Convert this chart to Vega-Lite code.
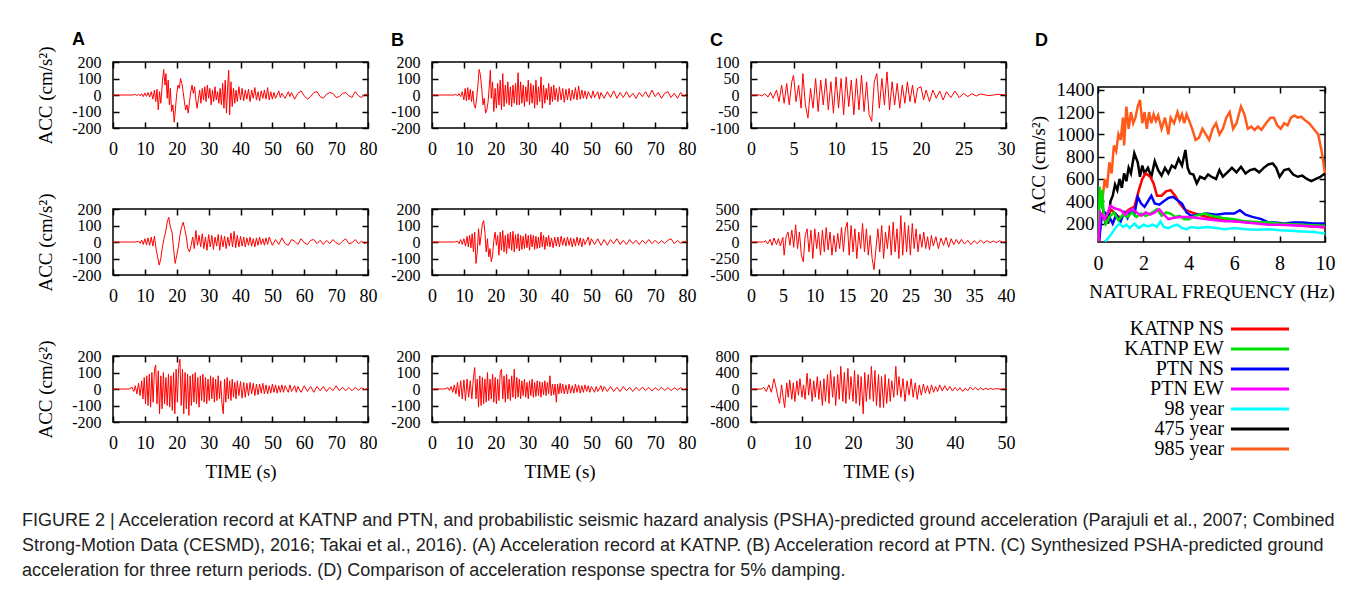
{
"$schema":"https://vega.github.io/schema/vega-lite/v6.json",
"background":"white",
"padding":{"left":22,"top":30,"right":5,"bottom":5},
"spacing":12,
"title":{"text":["FIGURE 2 | Acceleration record at KATNP and PTN, and probabilistic seismic hazard analysis (PSHA)-predicted ground acceleration (Parajuli et al., 2007; Combined","Strong-Motion Data (CESMD), 2016; Takai et al., 2016). (A) Acceleration record at KATNP. (B) Acceleration record at PTN. (C) Synthesized PSHA-predicted ground","acceleration for three return periods. (D) Comparison of acceleration response spectra for 5% damping."],"orient":"bottom","anchor":"start","frame":"group","dx":-91,"offset":30,"font":"Liberation Sans","fontSize":18,"fontWeight":"normal","lineHeight":25,"color":"#222222"},
"datasets":{
"a1":[{"t":0,"a":0},{"t":6,"a":0},{"t":7,"a":3},{"t":7.5,"a":-4},{"t":8,"a":6},{"t":8.5,"a":-5},{"t":9,"a":8},{"t":9.5,"a":-10},{"t":10,"a":12},{"t":10.5,"a":-8},{"t":11,"a":15},{"t":11.5,"a":-12},{"t":12,"a":20},{"t":12.5,"a":-25},{"t":13,"a":30},{"t":13.4,"a":-40},{"t":13.8,"a":35},{"t":14.2,"a":-90},{"t":14.6,"a":20},{"t":15,"a":-50},{"t":15.5,"a":80},{"t":15.9,"a":155},{"t":16.3,"a":60},{"t":16.6,"a":130},{"t":17,"a":-20},{"t":17.3,"a":90},{"t":17.7,"a":-60},{"t":18,"a":40},{"t":18.4,"a":-100},{"t":18.8,"a":-60},{"t":19.2,"a":-165},{"t":19.6,"a":-80},{"t":20,"a":10},{"t":20.4,"a":60},{"t":20.8,"a":40},{"t":21.2,"a":100},{"t":21.6,"a":70},{"t":22,"a":20},{"t":22.4,"a":-40},{"t":22.8,"a":-90},{"t":23.2,"a":-60},{"t":23.6,"a":-110},{"t":24,"a":-40},{"t":24.4,"a":20},{"t":24.8,"a":60},{"t":25.2,"a":10},{"t":25.6,"a":50},{"t":26,"a":-30},{"t":26.4,"a":-80},{"t":26.8,"a":-20},{"t":27.2,"a":30},{"t":27.6,"a":-50},{"t":28,"a":40},{"t":28.4,"a":-30},{"t":28.8,"a":50},{"t":29.2,"a":-40},{"t":29.6,"a":60},{"t":30,"a":-20},{"t":30.4,"a":40},{"t":30.8,"a":-60},{"t":31.2,"a":30},{"t":31.6,"a":-40},{"t":32,"a":50},{"t":32.4,"a":-30},{"t":32.8,"a":20},{"t":33.2,"a":-50},{"t":33.6,"a":40},{"t":34,"a":-60},{"t":34.4,"a":70},{"t":34.8,"a":-80},{"t":35.2,"a":90},{"t":35.6,"a":-110},{"t":36,"a":60},{"t":36.3,"a":150},{"t":36.6,"a":-120},{"t":37,"a":80},{"t":37.4,"a":-70},{"t":37.8,"a":40},{"t":38.2,"a":-50},{"t":38.6,"a":30},{"t":39,"a":-40},{"t":39.5,"a":50},{"t":40,"a":-30},{"t":40.5,"a":40},{"t":41,"a":-35},{"t":41.5,"a":30},{"t":42,"a":-25},{"t":42.5,"a":35},{"t":43,"a":-40},{"t":43.5,"a":30},{"t":44,"a":-20},{"t":44.5,"a":45},{"t":45,"a":-30},{"t":45.5,"a":20},{"t":46,"a":-35},{"t":46.5,"a":25},{"t":47,"a":-20},{"t":47.5,"a":30},{"t":48,"a":-25},{"t":48.5,"a":45},{"t":49,"a":-30},{"t":49.5,"a":20},{"t":50,"a":-25},{"t":50.5,"a":15},{"t":51,"a":-20},{"t":52,"a":25},{"t":52.5,"a":-15},{"t":53,"a":10},{"t":54,"a":-20},{"t":55,"a":20},{"t":55.5,"a":-10},{"t":56,"a":15},{"t":57,"a":-25},{"t":58,"a":10},{"t":59,"a":25},{"t":60,"a":-5},{"t":61,"a":-25},{"t":62,"a":-10},{"t":63,"a":15},{"t":64,"a":20},{"t":65,"a":-10},{"t":66,"a":-20},{"t":67,"a":5},{"t":68,"a":15},{"t":69,"a":10},{"t":70,"a":-15},{"t":71,"a":-10},{"t":72,"a":10},{"t":73,"a":15},{"t":74,"a":-5},{"t":75,"a":-15},{"t":75.5,"a":5},{"t":76,"a":20},{"t":77,"a":-5},{"t":78,"a":-15},{"t":79,"a":5},{"t":80,"a":0}],
"b1":[{"t":0,"a":0},{"t":7,"a":0},{"t":7.5,"a":4},{"t":8,"a":-5},{"t":8.5,"a":8},{"t":9,"a":-10},{"t":9.5,"a":20},{"t":10,"a":-30},{"t":10.4,"a":40},{"t":10.8,"a":-35},{"t":11.2,"a":45},{"t":11.6,"a":-30},{"t":12,"a":35},{"t":12.4,"a":-40},{"t":12.8,"a":25},{"t":13.2,"a":-60},{"t":13.6,"a":-80},{"t":14,"a":-20},{"t":14.4,"a":60},{"t":14.8,"a":155},{"t":15.2,"a":120},{"t":15.6,"a":40},{"t":16,"a":-60},{"t":16.4,"a":-20},{"t":16.8,"a":-110},{"t":17.2,"a":-90},{"t":17.6,"a":-40},{"t":18,"a":60},{"t":18.3,"a":150},{"t":18.6,"a":-20},{"t":19,"a":80},{"t":19.4,"a":-100},{"t":19.8,"a":40},{"t":20.2,"a":-80},{"t":20.6,"a":70},{"t":21,"a":-60},{"t":21.4,"a":90},{"t":21.8,"a":-90},{"t":22.2,"a":130},{"t":22.6,"a":-70},{"t":23,"a":60},{"t":23.4,"a":-50},{"t":23.8,"a":80},{"t":24.2,"a":-60},{"t":24.6,"a":50},{"t":25,"a":-70},{"t":25.4,"a":60},{"t":25.8,"a":-50},{"t":26.2,"a":70},{"t":26.6,"a":-60},{"t":27,"a":135},{"t":27.4,"a":-60},{"t":27.8,"a":80},{"t":28.2,"a":-50},{"t":28.6,"a":60},{"t":29,"a":-70},{"t":29.4,"a":50},{"t":29.8,"a":-40},{"t":30.2,"a":90},{"t":30.6,"a":-60},{"t":31,"a":70},{"t":31.4,"a":-50},{"t":31.8,"a":60},{"t":32.2,"a":-80},{"t":32.6,"a":90},{"t":33,"a":-60},{"t":33.4,"a":50},{"t":33.8,"a":-40},{"t":34.2,"a":110},{"t":34.6,"a":-80},{"t":35,"a":60},{"t":35.4,"a":-50},{"t":35.8,"a":40},{"t":36.2,"a":-30},{"t":36.6,"a":70},{"t":37,"a":-60},{"t":37.4,"a":50},{"t":37.8,"a":-40},{"t":38.2,"a":60},{"t":38.6,"a":-30},{"t":39,"a":40},{"t":39.5,"a":-40},{"t":40,"a":50},{"t":40.5,"a":-30},{"t":41,"a":40},{"t":41.5,"a":-45},{"t":42,"a":35},{"t":42.5,"a":-30},{"t":43,"a":40},{"t":43.5,"a":-35},{"t":44,"a":30},{"t":44.5,"a":-25},{"t":45,"a":45},{"t":45.5,"a":-30},{"t":46,"a":55},{"t":46.5,"a":-25},{"t":47,"a":30},{"t":47.5,"a":-20},{"t":48,"a":25},{"t":48.5,"a":-25},{"t":49,"a":20},{"t":50,"a":-20},{"t":50.5,"a":25},{"t":51,"a":-15},{"t":52,"a":20},{"t":52.5,"a":-25},{"t":53,"a":15},{"t":54,"a":-20},{"t":55,"a":20},{"t":56,"a":-15},{"t":57,"a":25},{"t":58,"a":-20},{"t":59,"a":15},{"t":60,"a":-15},{"t":61,"a":20},{"t":62,"a":-15},{"t":63,"a":10},{"t":64,"a":-20},{"t":65,"a":15},{"t":66,"a":-10},{"t":67,"a":20},{"t":68,"a":-15},{"t":69,"a":30},{"t":70,"a":-10},{"t":71,"a":15},{"t":72,"a":-20},{"t":73,"a":10},{"t":74,"a":20},{"t":75,"a":-15},{"t":76,"a":10},{"t":77,"a":-20},{"t":78,"a":15},{"t":79,"a":-10},{"t":80,"a":10}],
"c1":[{"t":0,"a":0},{"t":1,"a":0},{"t":1.3,"a":-3},{"t":1.6,"a":4},{"t":2,"a":-6},{"t":2.3,"a":8},{"t":2.6,"a":-10},{"t":3,"a":15},{"t":3.3,"a":-20},{"t":3.6,"a":30},{"t":3.9,"a":-25},{"t":4.2,"a":35},{"t":4.5,"a":-30},{"t":4.8,"a":40},{"t":5,"a":60},{"t":5.3,"a":-20},{"t":5.6,"a":30},{"t":5.9,"a":-40},{"t":6.1,"a":65},{"t":6.4,"a":-30},{"t":6.7,"a":-70},{"t":7,"a":20},{"t":7.3,"a":-40},{"t":7.6,"a":50},{"t":7.9,"a":-50},{"t":8.2,"a":45},{"t":8.5,"a":-30},{"t":8.8,"a":50},{"t":9.1,"a":-45},{"t":9.4,"a":40},{"t":9.7,"a":-55},{"t":10,"a":55},{"t":10.3,"a":-40},{"t":10.6,"a":50},{"t":10.9,"a":-60},{"t":11.2,"a":55},{"t":11.5,"a":-35},{"t":11.8,"a":45},{"t":12.1,"a":-60},{"t":12.4,"a":50},{"t":12.7,"a":-45},{"t":13,"a":60},{"t":13.3,"a":-50},{"t":13.6,"a":40},{"t":13.9,"a":-60},{"t":14.2,"a":-80},{"t":14.5,"a":40},{"t":14.8,"a":65},{"t":15.1,"a":-40},{"t":15.4,"a":50},{"t":15.7,"a":-30},{"t":16,"a":70},{"t":16.3,"a":-45},{"t":16.6,"a":40},{"t":16.9,"a":-30},{"t":17.2,"a":35},{"t":17.5,"a":-40},{"t":17.8,"a":30},{"t":18.1,"a":-25},{"t":18.4,"a":40},{"t":18.7,"a":-20},{"t":19,"a":30},{"t":19.3,"a":-25},{"t":19.6,"a":20},{"t":20,"a":25},{"t":20.3,"a":-15},{"t":20.6,"a":15},{"t":21,"a":-20},{"t":21.4,"a":15},{"t":21.8,"a":-10},{"t":22.2,"a":12},{"t":22.6,"a":-15},{"t":23,"a":10},{"t":23.5,"a":-8},{"t":24,"a":12},{"t":24.5,"a":-8},{"t":25,"a":5},{"t":25.5,"a":-5},{"t":26,"a":4},{"t":26.5,"a":-3},{"t":27,"a":3},{"t":28,"a":-2},{"t":29,"a":2},{"t":30,"a":0}],
"a2":[{"t":0,"a":0},{"t":7,"a":0},{"t":8,"a":5},{"t":8.5,"a":-8},{"t":9,"a":12},{"t":9.5,"a":-15},{"t":10,"a":20},{"t":10.5,"a":-18},{"t":11,"a":25},{"t":11.5,"a":-20},{"t":12,"a":30},{"t":12.5,"a":-25},{"t":13,"a":35},{"t":13.5,"a":-40},{"t":14,"a":-90},{"t":14.5,"a":-140},{"t":15,"a":-100},{"t":15.5,"a":-30},{"t":16,"a":20},{"t":16.5,"a":60},{"t":17,"a":120},{"t":17.5,"a":150},{"t":18,"a":90},{"t":18.5,"a":60},{"t":19,"a":-40},{"t":19.5,"a":-130},{"t":20,"a":-80},{"t":20.5,"a":-30},{"t":21,"a":40},{"t":21.5,"a":90},{"t":22,"a":120},{"t":22.5,"a":80},{"t":23,"a":30},{"t":23.5,"a":-40},{"t":24,"a":-60},{"t":24.5,"a":-20},{"t":25,"a":30},{"t":25.5,"a":-40},{"t":26,"a":70},{"t":26.5,"a":-20},{"t":27,"a":40},{"t":27.5,"a":-30},{"t":28,"a":50},{"t":28.5,"a":-40},{"t":29,"a":30},{"t":29.5,"a":-50},{"t":30,"a":45},{"t":30.5,"a":-30},{"t":31,"a":40},{"t":31.5,"a":-45},{"t":32,"a":30},{"t":32.5,"a":-25},{"t":33,"a":45},{"t":33.5,"a":-50},{"t":34,"a":40},{"t":34.5,"a":-30},{"t":35,"a":35},{"t":35.5,"a":-40},{"t":36,"a":30},{"t":36.5,"a":-25},{"t":37,"a":55},{"t":37.5,"a":-30},{"t":38,"a":65},{"t":38.5,"a":-35},{"t":39,"a":40},{"t":39.5,"a":-30},{"t":40,"a":35},{"t":40.5,"a":-25},{"t":41,"a":30},{"t":41.5,"a":-30},{"t":42,"a":25},{"t":42.5,"a":-20},{"t":43,"a":30},{"t":43.5,"a":-25},{"t":44,"a":20},{"t":44.5,"a":-30},{"t":45,"a":25},{"t":45.5,"a":-20},{"t":46,"a":30},{"t":46.5,"a":-15},{"t":47,"a":20},{"t":47.5,"a":-20},{"t":48,"a":25},{"t":48.5,"a":-15},{"t":49,"a":30},{"t":50,"a":-20},{"t":51,"a":15},{"t":52,"a":-15},{"t":53,"a":25},{"t":54,"a":-10},{"t":55,"a":-20},{"t":56,"a":15},{"t":57,"a":5},{"t":58,"a":-15},{"t":59,"a":20},{"t":60,"a":-5},{"t":61,"a":-15},{"t":62,"a":10},{"t":63,"a":15},{"t":64,"a":-10},{"t":65,"a":10},{"t":66,"a":-15},{"t":67,"a":10},{"t":68,"a":-10},{"t":69,"a":15},{"t":70,"a":-5},{"t":71,"a":-15},{"t":72,"a":5},{"t":73,"a":20},{"t":74,"a":-10},{"t":75,"a":-5},{"t":76,"a":15},{"t":77,"a":-10},{"t":78,"a":5},{"t":79,"a":-10},{"t":80,"a":5}],
"b2":[{"t":0,"a":0},{"t":7,"a":0},{"t":8,"a":5},{"t":8.5,"a":-10},{"t":9,"a":15},{"t":9.5,"a":-15},{"t":10,"a":20},{"t":10.5,"a":-25},{"t":11,"a":35},{"t":11.4,"a":-30},{"t":11.8,"a":40},{"t":12.2,"a":-35},{"t":12.6,"a":50},{"t":13,"a":-60},{"t":13.4,"a":60},{"t":13.8,"a":-130},{"t":14.2,"a":-60},{"t":14.6,"a":80},{"t":15,"a":-20},{"t":15.4,"a":40},{"t":15.8,"a":110},{"t":16.2,"a":130},{"t":16.6,"a":60},{"t":17,"a":-60},{"t":17.4,"a":20},{"t":17.8,"a":-90},{"t":18.2,"a":-40},{"t":18.6,"a":-120},{"t":19,"a":-80},{"t":19.4,"a":10},{"t":19.8,"a":60},{"t":20.2,"a":-20},{"t":20.6,"a":40},{"t":21,"a":-80},{"t":21.4,"a":60},{"t":21.8,"a":-50},{"t":22.2,"a":70},{"t":22.6,"a":-60},{"t":23,"a":40},{"t":23.4,"a":-70},{"t":23.8,"a":50},{"t":24.2,"a":-40},{"t":24.6,"a":60},{"t":25,"a":-50},{"t":25.4,"a":65},{"t":25.8,"a":-60},{"t":26.2,"a":45},{"t":26.6,"a":-40},{"t":27,"a":50},{"t":27.4,"a":-55},{"t":27.8,"a":40},{"t":28.2,"a":-45},{"t":28.6,"a":35},{"t":29,"a":-40},{"t":29.4,"a":50},{"t":29.8,"a":-35},{"t":30.2,"a":40},{"t":30.6,"a":-50},{"t":31,"a":45},{"t":31.4,"a":-30},{"t":31.8,"a":40},{"t":32.2,"a":-45},{"t":32.6,"a":35},{"t":33,"a":-40},{"t":33.4,"a":30},{"t":33.8,"a":-35},{"t":34.2,"a":60},{"t":34.6,"a":-30},{"t":35,"a":40},{"t":35.4,"a":-45},{"t":35.8,"a":30},{"t":36.2,"a":-25},{"t":36.6,"a":40},{"t":37,"a":-30},{"t":37.5,"a":25},{"t":38,"a":-35},{"t":38.5,"a":30},{"t":39,"a":-25},{"t":39.5,"a":30},{"t":40,"a":-30},{"t":40.5,"a":35},{"t":41,"a":-20},{"t":41.5,"a":25},{"t":42,"a":-25},{"t":42.5,"a":30},{"t":43,"a":-20},{"t":43.5,"a":25},{"t":44,"a":-30},{"t":44.5,"a":20},{"t":45,"a":-25},{"t":45.5,"a":30},{"t":46,"a":-20},{"t":46.5,"a":25},{"t":47,"a":-30},{"t":47.5,"a":20},{"t":48,"a":-15},{"t":49,"a":30},{"t":49.5,"a":-20},{"t":50,"a":20},{"t":51,"a":-15},{"t":52,"a":20},{"t":53,"a":-20},{"t":54,"a":15},{"t":55,"a":-20},{"t":56,"a":15},{"t":57,"a":-10},{"t":58,"a":20},{"t":59,"a":-15},{"t":60,"a":10},{"t":61,"a":-15},{"t":62,"a":15},{"t":63,"a":-10},{"t":64,"a":10},{"t":65,"a":-15},{"t":66,"a":10},{"t":67,"a":-10},{"t":68,"a":15},{"t":69,"a":-10},{"t":70,"a":10},{"t":71,"a":-10},{"t":72,"a":8},{"t":73,"a":-8},{"t":74,"a":10},{"t":75,"a":20},{"t":76,"a":-10},{"t":77,"a":10},{"t":78,"a":-8},{"t":79,"a":5},{"t":80,"a":0}],
"c2":[{"t":0,"a":0},{"t":2,"a":0},{"t":2.3,"a":20},{"t":2.6,"a":-30},{"t":3,"a":40},{"t":3.3,"a":-50},{"t":3.6,"a":60},{"t":4,"a":-40},{"t":4.3,"a":50},{"t":4.6,"a":-60},{"t":5,"a":70},{"t":5.2,"a":-200},{"t":5.5,"a":80},{"t":5.8,"a":150},{"t":6.1,"a":-50},{"t":6.4,"a":180},{"t":6.7,"a":-80},{"t":7,"a":260},{"t":7.3,"a":-100},{"t":7.6,"a":150},{"t":7.9,"a":-200},{"t":8.2,"a":-300},{"t":8.5,"a":100},{"t":8.8,"a":200},{"t":9.1,"a":-150},{"t":9.4,"a":180},{"t":9.7,"a":-250},{"t":10,"a":200},{"t":10.3,"a":-100},{"t":10.6,"a":150},{"t":10.9,"a":-200},{"t":11.2,"a":180},{"t":11.5,"a":-150},{"t":11.8,"a":220},{"t":12.1,"a":-120},{"t":12.4,"a":150},{"t":12.7,"a":-200},{"t":13,"a":100},{"t":13.3,"a":-150},{"t":13.6,"a":130},{"t":13.9,"a":-100},{"t":14.2,"a":220},{"t":14.5,"a":-150},{"t":14.8,"a":200},{"t":15.1,"a":300},{"t":15.4,"a":-200},{"t":15.7,"a":250},{"t":16,"a":-150},{"t":16.3,"a":200},{"t":16.6,"a":-250},{"t":16.9,"a":150},{"t":17.2,"a":-100},{"t":17.5,"a":280},{"t":17.8,"a":-150},{"t":18.1,"a":200},{"t":18.4,"a":-200},{"t":18.7,"a":100},{"t":19,"a":-250},{"t":19.3,"a":-420},{"t":19.6,"a":-100},{"t":19.9,"a":200},{"t":20.2,"a":-150},{"t":20.5,"a":250},{"t":20.8,"a":-250},{"t":21.1,"a":150},{"t":21.4,"a":-100},{"t":21.7,"a":250},{"t":22,"a":-200},{"t":22.3,"a":300},{"t":22.6,"a":-150},{"t":22.9,"a":200},{"t":23.2,"a":-250},{"t":23.5,"a":400},{"t":23.8,"a":-200},{"t":24.1,"a":300},{"t":24.4,"a":-150},{"t":24.7,"a":250},{"t":25,"a":-200},{"t":25.3,"a":280},{"t":25.6,"a":-100},{"t":25.9,"a":200},{"t":26.2,"a":-150},{"t":26.5,"a":120},{"t":26.8,"a":-80},{"t":27.1,"a":150},{"t":27.4,"a":-100},{"t":27.7,"a":80},{"t":28,"a":-120},{"t":28.3,"a":100},{"t":28.6,"a":-60},{"t":29,"a":80},{"t":29.4,"a":-100},{"t":29.8,"a":60},{"t":30.2,"a":-50},{"t":30.6,"a":70},{"t":31,"a":-80},{"t":31.4,"a":50},{"t":31.8,"a":-40},{"t":32.2,"a":40},{"t":32.6,"a":-30},{"t":33,"a":40},{"t":33.5,"a":-30},{"t":34,"a":25},{"t":34.5,"a":-40},{"t":35,"a":20},{"t":35.5,"a":-25},{"t":36,"a":30},{"t":36.5,"a":-15},{"t":37,"a":20},{"t":37.5,"a":-10},{"t":38,"a":15},{"t":38.5,"a":-10},{"t":39,"a":20},{"t":39.5,"a":-5},{"t":40,"a":10}],
"a3":[{"t":0,"a":0},{"t":5,"a":0},{"t":6,"a":10},{"t":6.5,"a":-15},{"t":7,"a":20},{"t":7.5,"a":-30},{"t":8,"a":35},{"t":8.5,"a":-40},{"t":9,"a":50},{"t":9.4,"a":-60},{"t":9.8,"a":70},{"t":10.2,"a":-90},{"t":10.6,"a":80},{"t":11,"a":-100},{"t":11.4,"a":90},{"t":11.8,"a":-110},{"t":12.2,"a":100},{"t":12.6,"a":-80},{"t":13,"a":120},{"t":13.4,"a":145},{"t":13.8,"a":-90},{"t":14.2,"a":110},{"t":14.6,"a":-150},{"t":15,"a":80},{"t":15.4,"a":-120},{"t":15.8,"a":100},{"t":16.2,"a":-90},{"t":16.6,"a":70},{"t":17,"a":-100},{"t":17.4,"a":90},{"t":17.8,"a":-110},{"t":18.2,"a":80},{"t":18.6,"a":-130},{"t":19,"a":100},{"t":19.4,"a":-150},{"t":19.8,"a":120},{"t":20.2,"a":-80},{"t":20.6,"a":130},{"t":21,"a":180},{"t":21.4,"a":-100},{"t":21.8,"a":120},{"t":22.2,"a":-150},{"t":22.6,"a":100},{"t":23,"a":-120},{"t":23.4,"a":90},{"t":23.8,"a":-160},{"t":24.2,"a":80},{"t":24.6,"a":-100},{"t":25,"a":90},{"t":25.4,"a":-80},{"t":25.8,"a":100},{"t":26.2,"a":-90},{"t":26.6,"a":70},{"t":27,"a":-110},{"t":27.4,"a":80},{"t":27.8,"a":-70},{"t":28.2,"a":90},{"t":28.6,"a":-80},{"t":29,"a":70},{"t":29.4,"a":-90},{"t":29.8,"a":60},{"t":30.2,"a":-70},{"t":30.6,"a":80},{"t":31,"a":-60},{"t":31.4,"a":70},{"t":31.8,"a":-80},{"t":32.2,"a":60},{"t":32.6,"a":-70},{"t":33,"a":80},{"t":33.4,"a":-60},{"t":33.8,"a":50},{"t":34.2,"a":-90},{"t":34.6,"a":-150},{"t":35,"a":60},{"t":35.4,"a":-80},{"t":35.8,"a":70},{"t":36.2,"a":-60},{"t":36.6,"a":50},{"t":37,"a":-70},{"t":37.4,"a":60},{"t":37.8,"a":-50},{"t":38.2,"a":40},{"t":38.6,"a":-60},{"t":39,"a":50},{"t":39.5,"a":-40},{"t":40,"a":45},{"t":40.5,"a":-55},{"t":41,"a":40},{"t":41.5,"a":-50},{"t":42,"a":35},{"t":42.5,"a":-40},{"t":43,"a":40},{"t":43.5,"a":-30},{"t":44,"a":35},{"t":44.5,"a":-40},{"t":45,"a":30},{"t":45.5,"a":-35},{"t":46,"a":30},{"t":46.5,"a":-25},{"t":47,"a":35},{"t":47.5,"a":-30},{"t":48,"a":25},{"t":48.5,"a":-30},{"t":49,"a":20},{"t":49.5,"a":-25},{"t":50,"a":30},{"t":50.5,"a":-20},{"t":51,"a":25},{"t":51.5,"a":-25},{"t":52,"a":20},{"t":52.5,"a":-20},{"t":53,"a":25},{"t":53.5,"a":-20},{"t":54,"a":20},{"t":55,"a":-20},{"t":55.5,"a":25},{"t":56,"a":-15},{"t":57,"a":20},{"t":57.5,"a":-20},{"t":58,"a":15},{"t":59,"a":-20},{"t":60,"a":20},{"t":61,"a":-15},{"t":62,"a":15},{"t":63,"a":-20},{"t":64,"a":15},{"t":65,"a":-10},{"t":66,"a":15},{"t":67,"a":-15},{"t":68,"a":10},{"t":69,"a":-10},{"t":70,"a":20},{"t":71,"a":-10},{"t":72,"a":10},{"t":73,"a":-10},{"t":74,"a":8},{"t":75,"a":-10},{"t":76,"a":10},{"t":77,"a":-8},{"t":78,"a":8},{"t":79,"a":-5},{"t":80,"a":5}],
"b3":[{"t":0,"a":0},{"t":4,"a":0},{"t":5,"a":8},{"t":5.5,"a":-10},{"t":6,"a":15},{"t":6.5,"a":-20},{"t":7,"a":25},{"t":7.5,"a":-30},{"t":8,"a":40},{"t":8.5,"a":-45},{"t":9,"a":50},{"t":9.5,"a":-60},{"t":10,"a":55},{"t":10.5,"a":-70},{"t":11,"a":60},{"t":11.5,"a":-50},{"t":12,"a":50},{"t":12.5,"a":-60},{"t":13,"a":70},{"t":13.4,"a":130},{"t":13.8,"a":-60},{"t":14.2,"a":60},{"t":14.6,"a":-110},{"t":15,"a":80},{"t":15.4,"a":-100},{"t":15.8,"a":70},{"t":16.2,"a":-90},{"t":16.6,"a":60},{"t":17,"a":-80},{"t":17.4,"a":100},{"t":17.8,"a":-70},{"t":18.2,"a":60},{"t":18.6,"a":-60},{"t":19,"a":90},{"t":19.4,"a":-80},{"t":19.8,"a":70},{"t":20.2,"a":-90},{"t":20.6,"a":60},{"t":21,"a":-70},{"t":21.4,"a":100},{"t":21.8,"a":120},{"t":22.2,"a":-60},{"t":22.6,"a":80},{"t":23,"a":-80},{"t":23.4,"a":90},{"t":23.8,"a":-60},{"t":24.2,"a":60},{"t":24.6,"a":-70},{"t":25,"a":80},{"t":25.4,"a":-50},{"t":25.8,"a":120},{"t":26.2,"a":-60},{"t":26.6,"a":70},{"t":27,"a":-50},{"t":27.4,"a":60},{"t":27.8,"a":-60},{"t":28.2,"a":50},{"t":28.6,"a":-40},{"t":29,"a":60},{"t":29.4,"a":-50},{"t":29.8,"a":40},{"t":30.2,"a":-60},{"t":30.6,"a":50},{"t":31,"a":-40},{"t":31.4,"a":60},{"t":31.8,"a":-50},{"t":32.2,"a":40},{"t":32.6,"a":-45},{"t":33,"a":50},{"t":33.4,"a":-40},{"t":33.8,"a":45},{"t":34.2,"a":-50},{"t":34.6,"a":40},{"t":35,"a":-35},{"t":35.4,"a":50},{"t":35.8,"a":-40},{"t":36.2,"a":40},{"t":36.6,"a":-30},{"t":37,"a":80},{"t":37.4,"a":-40},{"t":37.8,"a":30},{"t":38.2,"a":-35},{"t":38.6,"a":30},{"t":39,"a":-80},{"t":39.4,"a":30},{"t":39.8,"a":-30},{"t":40.2,"a":35},{"t":40.6,"a":-25},{"t":41,"a":30},{"t":41.5,"a":-30},{"t":42,"a":25},{"t":42.5,"a":-30},{"t":43,"a":30},{"t":43.5,"a":-25},{"t":44,"a":20},{"t":44.5,"a":-25},{"t":45,"a":30},{"t":45.5,"a":-20},{"t":46,"a":25},{"t":46.5,"a":-25},{"t":47,"a":20},{"t":47.5,"a":-20},{"t":48,"a":25},{"t":48.5,"a":-15},{"t":49,"a":20},{"t":49.5,"a":-20},{"t":50,"a":15},{"t":51,"a":-20},{"t":51.5,"a":15},{"t":52,"a":-15},{"t":53,"a":20},{"t":53.5,"a":-15},{"t":54,"a":15},{"t":55,"a":-15},{"t":56,"a":15},{"t":57,"a":-15},{"t":58,"a":10},{"t":59,"a":-15},{"t":60,"a":15},{"t":61,"a":-10},{"t":62,"a":10},{"t":63,"a":-15},{"t":64,"a":10},{"t":65,"a":-10},{"t":66,"a":12},{"t":67,"a":-10},{"t":68,"a":10},{"t":69,"a":-12},{"t":70,"a":8},{"t":71,"a":-8},{"t":72,"a":10},{"t":73,"a":-8},{"t":74,"a":8},{"t":75,"a":-10},{"t":76,"a":8},{"t":77,"a":-6},{"t":78,"a":8},{"t":79,"a":-5},{"t":80,"a":5}],
"c3":[{"t":0,"a":0},{"t":2,"a":0},{"t":2.5,"a":40},{"t":3,"a":-60},{"t":3.5,"a":100},{"t":4,"a":-80},{"t":4.5,"a":250},{"t":4.8,"a":100},{"t":5.2,"a":-150},{"t":5.6,"a":-350},{"t":6,"a":100},{"t":6.3,"a":-200},{"t":6.6,"a":-450},{"t":7,"a":150},{"t":7.3,"a":-200},{"t":7.6,"a":220},{"t":8,"a":-250},{"t":8.3,"a":150},{"t":8.6,"a":-300},{"t":9,"a":200},{"t":9.3,"a":-150},{"t":9.6,"a":250},{"t":10,"a":-200},{"t":10.3,"a":100},{"t":10.6,"a":-250},{"t":11,"a":380},{"t":11.3,"a":-150},{"t":11.6,"a":250},{"t":12,"a":-300},{"t":12.3,"a":200},{"t":12.6,"a":-200},{"t":13,"a":300},{"t":13.3,"a":-250},{"t":13.6,"a":200},{"t":14,"a":-400},{"t":14.3,"a":250},{"t":14.6,"a":-300},{"t":15,"a":350},{"t":15.3,"a":-350},{"t":15.6,"a":450},{"t":16,"a":-200},{"t":16.3,"a":300},{"t":16.6,"a":-400},{"t":17,"a":350},{"t":17.3,"a":-250},{"t":17.6,"a":550},{"t":18,"a":-300},{"t":18.3,"a":400},{"t":18.6,"a":-350},{"t":19,"a":500},{"t":19.3,"a":-250},{"t":19.6,"a":300},{"t":20,"a":-300},{"t":20.3,"a":450},{"t":20.6,"a":-350},{"t":21,"a":350},{"t":21.3,"a":-400},{"t":21.6,"a":300},{"t":22,"a":-600},{"t":22.3,"a":400},{"t":22.6,"a":-300},{"t":23,"a":350},{"t":23.3,"a":-250},{"t":23.6,"a":550},{"t":24,"a":-300},{"t":24.3,"a":450},{"t":24.6,"a":-400},{"t":25,"a":350},{"t":25.3,"a":-450},{"t":25.6,"a":300},{"t":26,"a":-450},{"t":26.3,"a":350},{"t":26.6,"a":-350},{"t":27,"a":250},{"t":27.3,"a":-300},{"t":27.6,"a":200},{"t":28,"a":-200},{"t":28.4,"a":550},{"t":28.7,"a":-150},{"t":29,"a":300},{"t":29.4,"a":-200},{"t":29.8,"a":250},{"t":30.2,"a":-300},{"t":30.6,"a":200},{"t":31,"a":-150},{"t":31.4,"a":250},{"t":31.8,"a":-200},{"t":32.2,"a":150},{"t":32.6,"a":-250},{"t":33,"a":100},{"t":33.4,"a":-150},{"t":33.8,"a":120},{"t":34.2,"a":-100},{"t":34.6,"a":80},{"t":35,"a":-120},{"t":35.4,"a":100},{"t":35.8,"a":-80},{"t":36.2,"a":60},{"t":36.6,"a":-60},{"t":37,"a":100},{"t":37.5,"a":-50},{"t":38,"a":80},{"t":38.5,"a":-40},{"t":39,"a":60},{"t":39.5,"a":-50},{"t":40,"a":40},{"t":40.5,"a":-40},{"t":41,"a":30},{"t":41.5,"a":-60},{"t":42,"a":20},{"t":42.5,"a":-40},{"t":43,"a":50},{"t":43.5,"a":-20},{"t":44,"a":40},{"t":44.5,"a":-30},{"t":45,"a":30},{"t":45.5,"a":-20},{"t":46,"a":20},{"t":46.5,"a":-10},{"t":47,"a":15},{"t":47.5,"a":-10},{"t":48,"a":10},{"t":49,"a":-5},{"t":50,"a":5}],
"d":[
{"s":"985 year","f":0.2,"v":430},{"s":"985 year","f":0.3,"v":600},{"s":"985 year","f":0.4,"v":520},{"s":"985 year","f":0.5,"v":750},{"s":"985 year","f":0.6,"v":650},{"s":"985 year","f":0.7,"v":900},{"s":"985 year","f":0.8,"v":850},{"s":"985 year","f":0.9,"v":1000},{"s":"985 year","f":1.0,"v":950},{"s":"985 year","f":1.1,"v":1150},{"s":"985 year","f":1.15,"v":900},{"s":"985 year","f":1.25,"v":1250},{"s":"985 year","f":1.35,"v":1050},{"s":"985 year","f":1.45,"v":1200},{"s":"985 year","f":1.55,"v":1100},{"s":"985 year","f":1.65,"v":1150},{"s":"985 year","f":1.75,"v":1250},{"s":"985 year","f":1.85,"v":1310},{"s":"985 year","f":1.95,"v":1100},{"s":"985 year","f":2.05,"v":1200},{"s":"985 year","f":2.15,"v":1050},{"s":"985 year","f":2.25,"v":1200},{"s":"985 year","f":2.35,"v":1100},{"s":"985 year","f":2.45,"v":1180},{"s":"985 year","f":2.55,"v":1120},{"s":"985 year","f":2.65,"v":1170},{"s":"985 year","f":2.8,"v":1050},{"s":"985 year","f":2.95,"v":1150},{"s":"985 year","f":3.1,"v":1000},{"s":"985 year","f":3.2,"v":1150},{"s":"985 year","f":3.35,"v":1100},{"s":"985 year","f":3.5,"v":1200},{"s":"985 year","f":3.6,"v":1130},{"s":"985 year","f":3.7,"v":1180},{"s":"985 year","f":3.8,"v":1100},{"s":"985 year","f":3.9,"v":1180},{"s":"985 year","f":4.0,"v":1130},{"s":"985 year","f":4.15,"v":1050},{"s":"985 year","f":4.3,"v":950},{"s":"985 year","f":4.45,"v":970},{"s":"985 year","f":4.6,"v":1050},{"s":"985 year","f":4.75,"v":1000},{"s":"985 year","f":4.9,"v":950},{"s":"985 year","f":5.05,"v":1050},{"s":"985 year","f":5.2,"v":1100},{"s":"985 year","f":5.35,"v":1000},{"s":"985 year","f":5.5,"v":1050},{"s":"985 year","f":5.65,"v":1150},{"s":"985 year","f":5.8,"v":1200},{"s":"985 year","f":5.95,"v":1050},{"s":"985 year","f":6.1,"v":1100},{"s":"985 year","f":6.3,"v":1250},{"s":"985 year","f":6.45,"v":1180},{"s":"985 year","f":6.6,"v":1050},{"s":"985 year","f":6.75,"v":1070},{"s":"985 year","f":6.9,"v":1040},{"s":"985 year","f":7.05,"v":1070},{"s":"985 year","f":7.2,"v":1040},{"s":"985 year","f":7.4,"v":1100},{"s":"985 year","f":7.6,"v":1150},{"s":"985 year","f":7.75,"v":1150},{"s":"985 year","f":7.9,"v":1080},{"s":"985 year","f":8.05,"v":1050},{"s":"985 year","f":8.2,"v":1100},{"s":"985 year","f":8.35,"v":1080},{"s":"985 year","f":8.5,"v":1150},{"s":"985 year","f":8.65,"v":1170},{"s":"985 year","f":8.8,"v":1150},{"s":"985 year","f":8.95,"v":1160},{"s":"985 year","f":9.1,"v":1130},{"s":"985 year","f":9.3,"v":1100},{"s":"985 year","f":9.5,"v":1050},{"s":"985 year","f":9.7,"v":1000},{"s":"985 year","f":9.85,"v":850},{"s":"985 year","f":10,"v":650},
{"s":"475 year","f":0.2,"v":350},{"s":"475 year","f":0.3,"v":230},{"s":"475 year","f":0.4,"v":280},{"s":"475 year","f":0.45,"v":200},{"s":"475 year","f":0.55,"v":400},{"s":"475 year","f":0.65,"v":450},{"s":"475 year","f":0.75,"v":550},{"s":"475 year","f":0.85,"v":500},{"s":"475 year","f":0.95,"v":600},{"s":"475 year","f":1.05,"v":520},{"s":"475 year","f":1.15,"v":650},{"s":"475 year","f":1.25,"v":580},{"s":"475 year","f":1.35,"v":700},{"s":"475 year","f":1.45,"v":650},{"s":"475 year","f":1.6,"v":830},{"s":"475 year","f":1.75,"v":750},{"s":"475 year","f":1.85,"v":620},{"s":"475 year","f":1.95,"v":720},{"s":"475 year","f":2.05,"v":650},{"s":"475 year","f":2.2,"v":700},{"s":"475 year","f":2.35,"v":620},{"s":"475 year","f":2.5,"v":760},{"s":"475 year","f":2.65,"v":680},{"s":"475 year","f":2.8,"v":630},{"s":"475 year","f":2.95,"v":700},{"s":"475 year","f":3.1,"v":650},{"s":"475 year","f":3.25,"v":720},{"s":"475 year","f":3.4,"v":700},{"s":"475 year","f":3.55,"v":780},{"s":"475 year","f":3.7,"v":720},{"s":"475 year","f":3.85,"v":860},{"s":"475 year","f":3.95,"v":700},{"s":"475 year","f":4.05,"v":650},{"s":"475 year","f":4.2,"v":640},{"s":"475 year","f":4.35,"v":560},{"s":"475 year","f":4.5,"v":620},{"s":"475 year","f":4.7,"v":600},{"s":"475 year","f":4.85,"v":640},{"s":"475 year","f":5.0,"v":620},{"s":"475 year","f":5.2,"v":600},{"s":"475 year","f":5.35,"v":680},{"s":"475 year","f":5.5,"v":620},{"s":"475 year","f":5.7,"v":660},{"s":"475 year","f":5.9,"v":700},{"s":"475 year","f":6.1,"v":660},{"s":"475 year","f":6.3,"v":710},{"s":"475 year","f":6.5,"v":650},{"s":"475 year","f":6.7,"v":680},{"s":"475 year","f":6.9,"v":690},{"s":"475 year","f":7.1,"v":660},{"s":"475 year","f":7.3,"v":700},{"s":"475 year","f":7.5,"v":730},{"s":"475 year","f":7.7,"v":740},{"s":"475 year","f":7.85,"v":700},{"s":"475 year","f":8.0,"v":620},{"s":"475 year","f":8.2,"v":680},{"s":"475 year","f":8.4,"v":690},{"s":"475 year","f":8.6,"v":640},{"s":"475 year","f":8.8,"v":620},{"s":"475 year","f":9.0,"v":630},{"s":"475 year","f":9.2,"v":600},{"s":"475 year","f":9.4,"v":580},{"s":"475 year","f":9.6,"v":600},{"s":"475 year","f":9.8,"v":620},{"s":"475 year","f":10,"v":650},
{"s":"KATNP NS","f":0.05,"v":40},{"s":"KATNP NS","f":0.1,"v":200},{"s":"KATNP NS","f":0.2,"v":280},{"s":"KATNP NS","f":0.3,"v":250},{"s":"KATNP NS","f":0.45,"v":300},{"s":"KATNP NS","f":0.6,"v":320},{"s":"KATNP NS","f":0.8,"v":280},{"s":"KATNP NS","f":1.0,"v":250},{"s":"KATNP NS","f":1.2,"v":300},{"s":"KATNP NS","f":1.4,"v":330},{"s":"KATNP NS","f":1.6,"v":350},{"s":"KATNP NS","f":1.8,"v":500},{"s":"KATNP NS","f":1.95,"v":600},{"s":"KATNP NS","f":2.1,"v":650},{"s":"KATNP NS","f":2.3,"v":620},{"s":"KATNP NS","f":2.45,"v":560},{"s":"KATNP NS","f":2.6,"v":450},{"s":"KATNP NS","f":2.8,"v":450},{"s":"KATNP NS","f":3.0,"v":490},{"s":"KATNP NS","f":3.2,"v":500},{"s":"KATNP NS","f":3.4,"v":450},{"s":"KATNP NS","f":3.6,"v":380},{"s":"KATNP NS","f":3.8,"v":330},{"s":"KATNP NS","f":4.0,"v":310},{"s":"KATNP NS","f":4.3,"v":290},{"s":"KATNP NS","f":4.6,"v":270},{"s":"KATNP NS","f":5.0,"v":250},{"s":"KATNP NS","f":5.5,"v":240},{"s":"KATNP NS","f":6.0,"v":220},{"s":"KATNP NS","f":6.5,"v":215},{"s":"KATNP NS","f":7.0,"v":210},{"s":"KATNP NS","f":7.5,"v":205},{"s":"KATNP NS","f":8.0,"v":200},{"s":"KATNP NS","f":8.5,"v":190},{"s":"KATNP NS","f":9.0,"v":180},{"s":"KATNP NS","f":9.5,"v":175},{"s":"KATNP NS","f":10,"v":165},
{"s":"PTN NS","f":0.05,"v":40},{"s":"PTN NS","f":0.15,"v":250},{"s":"PTN NS","f":0.3,"v":300},{"s":"PTN NS","f":0.5,"v":260},{"s":"PTN NS","f":0.65,"v":200},{"s":"PTN NS","f":0.8,"v":280},{"s":"PTN NS","f":1.0,"v":220},{"s":"PTN NS","f":1.15,"v":300},{"s":"PTN NS","f":1.3,"v":250},{"s":"PTN NS","f":1.45,"v":320},{"s":"PTN NS","f":1.6,"v":280},{"s":"PTN NS","f":1.75,"v":440},{"s":"PTN NS","f":1.9,"v":380},{"s":"PTN NS","f":2.05,"v":350},{"s":"PTN NS","f":2.2,"v":400},{"s":"PTN NS","f":2.35,"v":450},{"s":"PTN NS","f":2.5,"v":380},{"s":"PTN NS","f":2.7,"v":370},{"s":"PTN NS","f":2.9,"v":400},{"s":"PTN NS","f":3.1,"v":430},{"s":"PTN NS","f":3.3,"v":440},{"s":"PTN NS","f":3.5,"v":410},{"s":"PTN NS","f":3.7,"v":380},{"s":"PTN NS","f":3.9,"v":300},{"s":"PTN NS","f":4.1,"v":270},{"s":"PTN NS","f":4.4,"v":280},{"s":"PTN NS","f":4.8,"v":290},{"s":"PTN NS","f":5.2,"v":280},{"s":"PTN NS","f":5.6,"v":290},{"s":"PTN NS","f":6.0,"v":290},{"s":"PTN NS","f":6.25,"v":320},{"s":"PTN NS","f":6.5,"v":280},{"s":"PTN NS","f":6.8,"v":260},{"s":"PTN NS","f":7.2,"v":240},{"s":"PTN NS","f":7.5,"v":210},{"s":"PTN NS","f":7.8,"v":210},{"s":"PTN NS","f":8.2,"v":200},{"s":"PTN NS","f":8.6,"v":210},{"s":"PTN NS","f":9.0,"v":210},{"s":"PTN NS","f":9.5,"v":200},{"s":"PTN NS","f":10,"v":200},
{"s":"KATNP EW","f":0.02,"v":40},{"s":"KATNP EW","f":0.08,"v":530},{"s":"KATNP EW","f":0.12,"v":350},{"s":"KATNP EW","f":0.18,"v":500},{"s":"KATNP EW","f":0.25,"v":280},{"s":"KATNP EW","f":0.35,"v":200},{"s":"KATNP EW","f":0.5,"v":260},{"s":"KATNP EW","f":0.7,"v":300},{"s":"KATNP EW","f":0.9,"v":230},{"s":"KATNP EW","f":1.1,"v":280},{"s":"KATNP EW","f":1.3,"v":260},{"s":"KATNP EW","f":1.5,"v":300},{"s":"KATNP EW","f":1.7,"v":260},{"s":"KATNP EW","f":1.9,"v":290},{"s":"KATNP EW","f":2.1,"v":270},{"s":"KATNP EW","f":2.4,"v":300},{"s":"KATNP EW","f":2.6,"v":330},{"s":"KATNP EW","f":2.8,"v":270},{"s":"KATNP EW","f":3.0,"v":300},{"s":"KATNP EW","f":3.2,"v":290},{"s":"KATNP EW","f":3.4,"v":260},{"s":"KATNP EW","f":3.6,"v":270},{"s":"KATNP EW","f":3.8,"v":240},{"s":"KATNP EW","f":4.0,"v":240},{"s":"KATNP EW","f":4.3,"v":270},{"s":"KATNP EW","f":4.7,"v":290},{"s":"KATNP EW","f":5.0,"v":270},{"s":"KATNP EW","f":5.5,"v":250},{"s":"KATNP EW","f":6.0,"v":240},{"s":"KATNP EW","f":6.5,"v":220},{"s":"KATNP EW","f":7.0,"v":215},{"s":"KATNP EW","f":7.5,"v":210},{"s":"KATNP EW","f":8.0,"v":200},{"s":"KATNP EW","f":8.5,"v":195},{"s":"KATNP EW","f":9.0,"v":190},{"s":"KATNP EW","f":9.5,"v":185},{"s":"KATNP EW","f":10,"v":180},
{"s":"PTN EW","f":0.02,"v":40},{"s":"PTN EW","f":0.1,"v":300},{"s":"PTN EW","f":0.2,"v":270},{"s":"PTN EW","f":0.3,"v":240},{"s":"PTN EW","f":0.4,"v":280},{"s":"PTN EW","f":0.55,"v":360},{"s":"PTN EW","f":0.7,"v":340},{"s":"PTN EW","f":0.85,"v":330},{"s":"PTN EW","f":1.0,"v":320},{"s":"PTN EW","f":1.2,"v":280},{"s":"PTN EW","f":1.35,"v":310},{"s":"PTN EW","f":1.5,"v":330},{"s":"PTN EW","f":1.7,"v":300},{"s":"PTN EW","f":1.9,"v":270},{"s":"PTN EW","f":2.1,"v":300},{"s":"PTN EW","f":2.3,"v":280},{"s":"PTN EW","f":2.5,"v":300},{"s":"PTN EW","f":2.7,"v":330},{"s":"PTN EW","f":2.9,"v":280},{"s":"PTN EW","f":3.1,"v":240},{"s":"PTN EW","f":3.3,"v":250},{"s":"PTN EW","f":3.6,"v":260},{"s":"PTN EW","f":4.0,"v":260},{"s":"PTN EW","f":4.4,"v":250},{"s":"PTN EW","f":4.8,"v":240},{"s":"PTN EW","f":5.2,"v":230},{"s":"PTN EW","f":5.6,"v":220},{"s":"PTN EW","f":6.0,"v":220},{"s":"PTN EW","f":6.5,"v":210},{"s":"PTN EW","f":7.0,"v":200},{"s":"PTN EW","f":7.5,"v":190},{"s":"PTN EW","f":8.0,"v":190},{"s":"PTN EW","f":8.5,"v":185},{"s":"PTN EW","f":9.0,"v":180},{"s":"PTN EW","f":9.5,"v":175},{"s":"PTN EW","f":10,"v":170},
{"s":"98 year","f":0.3,"v":40},{"s":"98 year","f":0.45,"v":70},{"s":"98 year","f":0.6,"v":110},{"s":"98 year","f":0.8,"v":170},{"s":"98 year","f":0.95,"v":200},{"s":"98 year","f":1.1,"v":170},{"s":"98 year","f":1.25,"v":190},{"s":"98 year","f":1.4,"v":160},{"s":"98 year","f":1.6,"v":200},{"s":"98 year","f":1.8,"v":160},{"s":"98 year","f":2.0,"v":190},{"s":"98 year","f":2.2,"v":175},{"s":"98 year","f":2.4,"v":190},{"s":"98 year","f":2.6,"v":170},{"s":"98 year","f":2.75,"v":220},{"s":"98 year","f":2.9,"v":170},{"s":"98 year","f":3.1,"v":160},{"s":"98 year","f":3.3,"v":180},{"s":"98 year","f":3.5,"v":190},{"s":"98 year","f":3.7,"v":160},{"s":"98 year","f":3.9,"v":150},{"s":"98 year","f":4.1,"v":170},{"s":"98 year","f":4.4,"v":160},{"s":"98 year","f":4.8,"v":170},{"s":"98 year","f":5.2,"v":160},{"s":"98 year","f":5.6,"v":150},{"s":"98 year","f":6.0,"v":160},{"s":"98 year","f":6.5,"v":150},{"s":"98 year","f":7.0,"v":145},{"s":"98 year","f":7.5,"v":150},{"s":"98 year","f":8.0,"v":140},{"s":"98 year","f":8.5,"v":135},{"s":"98 year","f":9.0,"v":130},{"s":"98 year","f":9.5,"v":125},{"s":"98 year","f":10,"v":110}
]
},
"hconcat":[
{"vconcat":[
 {"hconcat":[
  {"data":{"name":"a1"},"width":255,"height":66,"title":{"text":"A","dx":-41,"offset":-17,"baseline":"alphabetic"},
   "layer":[
    {"mark":{"type":"line","color":"#ff0000","strokeWidth":1},"encoding":{"x":{"field":"t","type":"quantitative","scale":{"domain":[0,80],"nice":false,"zero":false},"axis":{"values":[0,10,20,30,40,50,60,70,80],"title":null}},"y":{"field":"a","type":"quantitative","scale":{"domain":[-200,200],"nice":false},"axis":{"values":[-200,-100,0,100,200],"title":"ACC (cm/s²)","labelExpr":"''+datum.value"}}}},
    {"mark":{"type":"line","opacity":0},"encoding":{"x":{"field":"t","type":"quantitative","axis":{"orient":"top","labels":false,"title":null,"maxExtent":0,"values":[0,10,20,30,40,50,60,70,80]}},"y":{"field":"a","type":"quantitative","axis":{"orient":"right","labels":false,"title":null,"maxExtent":0,"values":[-200,-100,0,100,200]}}}}
   ],"resolve":{"axis":{"x":"independent","y":"independent"}}},
  {"data":{"name":"b1"},"width":255,"height":66,"title":{"text":"B","dx":-41,"offset":-10,"baseline":"alphabetic"},
   "layer":[
    {"mark":{"type":"line","color":"#ff0000","strokeWidth":1},"encoding":{"x":{"field":"t","type":"quantitative","scale":{"domain":[0,80],"nice":false,"zero":false},"axis":{"values":[0,10,20,30,40,50,60,70,80],"title":null}},"y":{"field":"a","type":"quantitative","scale":{"domain":[-200,200],"nice":false},"axis":{"values":[-200,-100,0,100,200],"title":null,"labelExpr":"''+datum.value"}}}},
    {"mark":{"type":"line","opacity":0},"encoding":{"x":{"field":"t","type":"quantitative","axis":{"orient":"top","labels":false,"title":null,"maxExtent":0,"values":[0,10,20,30,40,50,60,70,80]}},"y":{"field":"a","type":"quantitative","axis":{"orient":"right","labels":false,"title":null,"maxExtent":0,"values":[-200,-100,0,100,200]}}}}
   ],"resolve":{"axis":{"x":"independent","y":"independent"}}},
  {"data":{"name":"c1"},"width":255,"height":66,"title":{"text":"C","dx":-41,"offset":-10,"baseline":"alphabetic"},
   "layer":[
    {"mark":{"type":"line","color":"#ff0000","strokeWidth":1},"encoding":{"x":{"field":"t","type":"quantitative","scale":{"domain":[0,30],"nice":false,"zero":false},"axis":{"values":[0,5,10,15,20,25,30],"title":null}},"y":{"field":"a","type":"quantitative","scale":{"domain":[-100,100],"nice":false},"axis":{"values":[-100,-50,0,50,100],"title":null,"labelExpr":"''+datum.value"}}}},
    {"mark":{"type":"line","opacity":0},"encoding":{"x":{"field":"t","type":"quantitative","axis":{"orient":"top","labels":false,"title":null,"maxExtent":0,"values":[0,5,10,15,20,25,30]}},"y":{"field":"a","type":"quantitative","axis":{"orient":"right","labels":false,"title":null,"maxExtent":0,"values":[-100,-50,0,50,100]}}}}
   ],"resolve":{"axis":{"x":"independent","y":"independent"}}}
 ],"spacing":64,"bounds":"flush"},
 {"hconcat":[
  {"data":{"name":"a2"},"width":255,"height":66,
   "layer":[
    {"mark":{"type":"line","color":"#ff0000","strokeWidth":1},"encoding":{"x":{"field":"t","type":"quantitative","scale":{"domain":[0,80],"nice":false,"zero":false},"axis":{"values":[0,10,20,30,40,50,60,70,80],"title":null}},"y":{"field":"a","type":"quantitative","scale":{"domain":[-200,200],"nice":false},"axis":{"values":[-200,-100,0,100,200],"title":"ACC (cm/s²)","labelExpr":"''+datum.value"}}}},
    {"mark":{"type":"line","opacity":0},"encoding":{"x":{"field":"t","type":"quantitative","axis":{"orient":"top","labels":false,"title":null,"maxExtent":0,"values":[0,10,20,30,40,50,60,70,80]}},"y":{"field":"a","type":"quantitative","axis":{"orient":"right","labels":false,"title":null,"maxExtent":0,"values":[-200,-100,0,100,200]}}}}
   ],"resolve":{"axis":{"x":"independent","y":"independent"}}},
  {"data":{"name":"b2"},"width":255,"height":66,
   "layer":[
    {"mark":{"type":"line","color":"#ff0000","strokeWidth":1},"encoding":{"x":{"field":"t","type":"quantitative","scale":{"domain":[0,80],"nice":false,"zero":false},"axis":{"values":[0,10,20,30,40,50,60,70,80],"title":null}},"y":{"field":"a","type":"quantitative","scale":{"domain":[-200,200],"nice":false},"axis":{"values":[-200,-100,0,100,200],"title":null,"labelExpr":"''+datum.value"}}}},
    {"mark":{"type":"line","opacity":0},"encoding":{"x":{"field":"t","type":"quantitative","axis":{"orient":"top","labels":false,"title":null,"maxExtent":0,"values":[0,10,20,30,40,50,60,70,80]}},"y":{"field":"a","type":"quantitative","axis":{"orient":"right","labels":false,"title":null,"maxExtent":0,"values":[-200,-100,0,100,200]}}}}
   ],"resolve":{"axis":{"x":"independent","y":"independent"}}},
  {"data":{"name":"c2"},"width":255,"height":66,
   "layer":[
    {"mark":{"type":"line","color":"#ff0000","strokeWidth":1},"encoding":{"x":{"field":"t","type":"quantitative","scale":{"domain":[0,40],"nice":false,"zero":false},"axis":{"values":[0,5,10,15,20,25,30,35,40],"title":null}},"y":{"field":"a","type":"quantitative","scale":{"domain":[-500,500],"nice":false},"axis":{"values":[-500,-250,0,250,500],"title":null,"labelExpr":"''+datum.value"}}}},
    {"mark":{"type":"line","opacity":0},"encoding":{"x":{"field":"t","type":"quantitative","axis":{"orient":"top","labels":false,"title":null,"maxExtent":0,"values":[0,5,10,15,20,25,30,35,40]}},"y":{"field":"a","type":"quantitative","axis":{"orient":"right","labels":false,"title":null,"maxExtent":0,"values":[-500,-250,0,250,500]}}}}
   ],"resolve":{"axis":{"x":"independent","y":"independent"}}}
 ],"spacing":64,"bounds":"flush"},
 {"hconcat":[
  {"data":{"name":"a3"},"width":255,"height":66,
   "layer":[
    {"mark":{"type":"line","color":"#ff0000","strokeWidth":1},"encoding":{"x":{"field":"t","type":"quantitative","scale":{"domain":[0,80],"nice":false,"zero":false},"axis":{"values":[0,10,20,30,40,50,60,70,80],"title":"TIME (s)"}},"y":{"field":"a","type":"quantitative","scale":{"domain":[-200,200],"nice":false},"axis":{"values":[-200,-100,0,100,200],"title":"ACC (cm/s²)","labelExpr":"''+datum.value"}}}},
    {"mark":{"type":"line","opacity":0},"encoding":{"x":{"field":"t","type":"quantitative","axis":{"orient":"top","labels":false,"title":null,"maxExtent":0,"values":[0,10,20,30,40,50,60,70,80]}},"y":{"field":"a","type":"quantitative","axis":{"orient":"right","labels":false,"title":null,"maxExtent":0,"values":[-200,-100,0,100,200]}}}}
   ],"resolve":{"axis":{"x":"independent","y":"independent"}}},
  {"data":{"name":"b3"},"width":255,"height":66,
   "layer":[
    {"mark":{"type":"line","color":"#ff0000","strokeWidth":1},"encoding":{"x":{"field":"t","type":"quantitative","scale":{"domain":[0,80],"nice":false,"zero":false},"axis":{"values":[0,10,20,30,40,50,60,70,80],"title":"TIME (s)"}},"y":{"field":"a","type":"quantitative","scale":{"domain":[-200,200],"nice":false},"axis":{"values":[-200,-100,0,100,200],"title":null,"labelExpr":"''+datum.value"}}}},
    {"mark":{"type":"line","opacity":0},"encoding":{"x":{"field":"t","type":"quantitative","axis":{"orient":"top","labels":false,"title":null,"maxExtent":0,"values":[0,10,20,30,40,50,60,70,80]}},"y":{"field":"a","type":"quantitative","axis":{"orient":"right","labels":false,"title":null,"maxExtent":0,"values":[-200,-100,0,100,200]}}}}
   ],"resolve":{"axis":{"x":"independent","y":"independent"}}},
  {"data":{"name":"c3"},"width":255,"height":66,
   "layer":[
    {"mark":{"type":"line","color":"#ff0000","strokeWidth":1},"encoding":{"x":{"field":"t","type":"quantitative","scale":{"domain":[0,50],"nice":false,"zero":false},"axis":{"values":[0,10,20,30,40,50],"title":"TIME (s)"}},"y":{"field":"a","type":"quantitative","scale":{"domain":[-800,800],"nice":false},"axis":{"values":[-800,-400,0,400,800],"title":null,"labelExpr":"''+datum.value"}}}},
    {"mark":{"type":"line","opacity":0},"encoding":{"x":{"field":"t","type":"quantitative","axis":{"orient":"top","labels":false,"title":null,"maxExtent":0,"values":[0,10,20,30,40,50]}},"y":{"field":"a","type":"quantitative","axis":{"orient":"right","labels":false,"title":null,"maxExtent":0,"values":[-800,-400,0,400,800]}}}}
   ],"resolve":{"axis":{"x":"independent","y":"independent"}}}
 ],"spacing":64,"bounds":"flush"}
],"spacing":33},
{"vconcat":[
 {"width":227,"height":1,"data":{"values":[{"k":0}]},"mark":{"type":"point","opacity":0},"encoding":{},"view":{"stroke":null}},
 {"data":{"name":"d"},"width":227,"height":155,"title":{"text":"D","dx":-63,"offset":17,"baseline":"alphabetic"},
  "layer":[
   {"mark":{"type":"line","strokeWidth":2.5},"encoding":{
     "x":{"field":"f","type":"quantitative","scale":{"domain":[0,10],"nice":false,"zero":false},"axis":{"values":[0,2,4,6,8,10],"title":"NATURAL FREQUENCY (Hz)","labelFontSize":20,"labelPadding":17,"titlePadding":9}},
     "y":{"field":"v","type":"quantitative","scale":{"domain":[35,1425],"nice":false,"zero":false},"axis":{"values":[200,400,600,800,1000,1200,1400],"title":"ACC (cm/s²)","labelFontSize":19,"labelPadding":10,"titlePadding":8,"labelExpr":"''+datum.value"}},
     "color":{"field":"s","type":"nominal","sort":["KATNP NS","KATNP EW","PTN NS","PTN EW","98 year","475 year","985 year"],"scale":{"domain":["KATNP NS","KATNP EW","PTN NS","PTN EW","98 year","475 year","985 year"],"range":["#ff0000","#00e000","#0000ff","#ff00ff","#00ffff","#000000","#ff5a1a"]},
       "legend":{"orient":"none","legendX":1137,"legendY":257,"title":null,"direction":"vertical","symbolType":"M-6,0H6","symbolSize":94,"symbolStrokeWidth":3,"labelFont":"Liberation Serif","labelFontSize":20,"labelColor":"black","labelAlign":"right","labelOffset":-46,"rowPadding":-2,"labelLimit":0}}}},
   {"mark":{"type":"line","opacity":0},"encoding":{"x":{"field":"f","type":"quantitative","axis":{"orient":"top","labels":false,"title":null,"maxExtent":0,"values":[0,2,4,6,8,10]}},"y":{"field":"v","type":"quantitative","axis":{"orient":"right","labels":false,"title":null,"maxExtent":0,"values":[200,400,600,800,1000,1200,1400]}},"detail":{"field":"s","type":"nominal"}}}
  ],"resolve":{"axis":{"x":"independent","y":"independent"}}}
],"spacing":24,"bounds":"flush"}
],
"config":{
 "view":{"stroke":"black","strokeWidth":1.5},
 "axis":{"domain":false,"grid":false,"ticks":true,"tickColor":"black","tickWidth":1.5,"tickSize":-6,"labelFont":"Liberation Serif","labelColor":"black","labelFontSize":16,"labelOverlap":false,"labelFlush":false,"labelPadding":18,"titleFont":"Liberation Serif","titleFontSize":19,"titleFontWeight":"normal","titleColor":"black","titlePadding":16},
 "axisX":{"labelFontSize":18,"labelPadding":18,"titlePadding":10},
 "title":{"font":"Liberation Sans","fontSize":18,"fontWeight":"bold","color":"black","anchor":"start","frame":"group"}
}
}
